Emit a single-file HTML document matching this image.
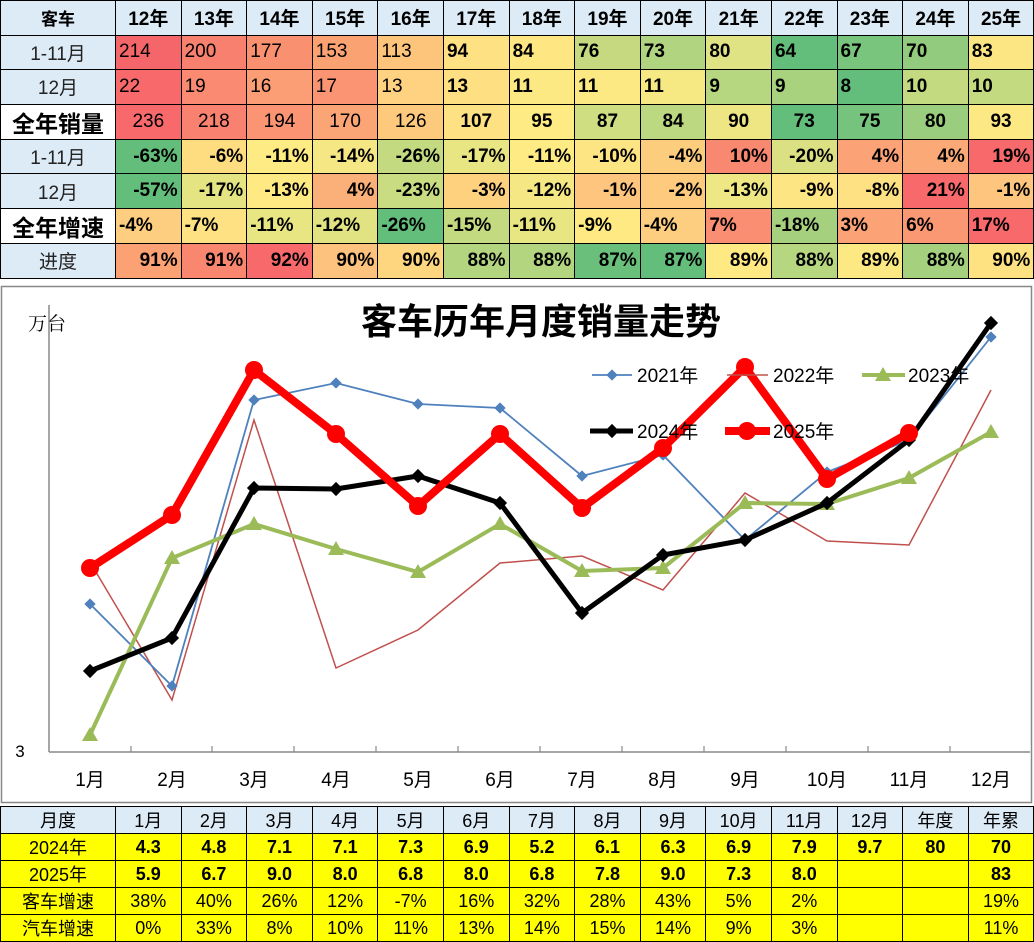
<!DOCTYPE html>
<html><head><meta charset="utf-8">
<style>
body{margin:0;width:1034px;height:941px;background:#fff;overflow:hidden;font-family:"Liberation Sans","Noto Sans CJK SC",sans-serif;position:relative}
table{border-collapse:collapse;table-layout:fixed;position:absolute;left:0}
td{border:1.5px solid #000;padding:0 3px;white-space:nowrap;overflow:hidden;color:#000}
#t1{top:0;width:1034px}
#t1 td{height:33.6px;font-size:19px}
#t1 tr.h td{background:#ddebf7;font-weight:bold;text-align:center;font-size:19px}
#t1 td.f{background:#ddebf7;text-align:center;font-weight:normal;font-size:19px;color:#222}
#t1 td.w{background:#fff;text-align:center;font-weight:bold;font-size:23px}
.l td{text-align:left}
.c td{text-align:center}
.r td{text-align:right;font-weight:bold}
.b td{font-weight:bold}
#t2{top:806px;width:1034px}
#t2 td{height:24px;font-size:18px;text-align:center;background:#ffff00;padding:0}
#t2 tr.h td{background:#ddebf7}
#t2 .n td{font-weight:bold}
#t2 td.f{font-weight:normal}
</style></head><body>
<table id="t1">
<colgroup><col style="width:115px"><col span="14" style="width:65.6px"></colgroup>
<tr class="h"><td style="font-size:17px">客车</td><td>12年</td><td>13年</td><td>14年</td><td>15年</td><td>16年</td><td>17年</td><td>18年</td><td>19年</td><td>20年</td><td>21年</td><td>22年</td><td>23年</td><td>24年</td><td>25年</td></tr>
<tr class="l"><td class="f">1-11月</td><td style="background:#f5666a">214</td><td style="background:#f7806e">200</td><td style="background:#f99170">177</td><td style="background:#fba273">153</td><td style="background:#fdc47c">113</td><td style="background:#fee182;font-weight:bold">94</td><td style="background:#fee782;font-weight:bold">84</td><td style="background:#c6d980;font-weight:bold">76</td><td style="background:#b0d47f;font-weight:bold">73</td><td style="background:#e0e383;font-weight:bold">80</td><td style="background:#63be7b;font-weight:bold">64</td><td style="background:#7ac57d;font-weight:bold">67</td><td style="background:#93cb7e;font-weight:bold">70</td><td style="background:#fbe683;font-weight:bold">83</td></tr>
<tr class="l"><td class="f">12月</td><td style="background:#f8696b">22</td><td style="background:#fa8b72">19</td><td style="background:#fb9d75">16</td><td style="background:#fa9473">17</td><td style="background:#fed280">13</td><td style="background:#fee082;font-weight:bold">13</td><td style="background:#fde983;font-weight:bold">11</td><td style="background:#fde983;font-weight:bold">11</td><td style="background:#f6e883;font-weight:bold">11</td><td style="background:#b7d680;font-weight:bold">9</td><td style="background:#a9d27f;font-weight:bold">9</td><td style="background:#63be7b;font-weight:bold">8</td><td style="background:#c3da80;font-weight:bold">10</td><td style="background:#c3da80;font-weight:bold">10</td></tr>
<tr class="c"><td class="w">全年销量</td><td style="background:#f8696b">236</td><td style="background:#f8816f">218</td><td style="background:#fa9473">194</td><td style="background:#fba576">170</td><td style="background:#fdc97d">126</td><td style="background:#fee182;font-weight:bold">107</td><td style="background:#ffeb84;font-weight:bold">95</td><td style="background:#d0de82;font-weight:bold">87</td><td style="background:#bcd881;font-weight:bold">84</td><td style="background:#eee683;font-weight:bold">90</td><td style="background:#63be7b;font-weight:bold">73</td><td style="background:#75c37c;font-weight:bold">75</td><td style="background:#9acd7e;font-weight:bold">80</td><td style="background:#fde983;font-weight:bold">93</td></tr>
<tr class="r"><td class="f">1-11月</td><td style="background:#63be7b">-63%</td><td style="background:#fedd81">-6%</td><td style="background:#ffeb84">-11%</td><td style="background:#f5e884">-14%</td><td style="background:#c4da80">-26%</td><td style="background:#e8e583">-17%</td><td style="background:#ffeb84">-11%</td><td style="background:#fee583">-10%</td><td style="background:#fdcd7e">-4%</td><td style="background:#f98870">10%</td><td style="background:#dbe182">-20%</td><td style="background:#fba276">4%</td><td style="background:#fbaa77">4%</td><td style="background:#f8696b">19%</td></tr>
<tr class="r"><td class="f">12月</td><td style="background:#63be7b">-57%</td><td style="background:#e5e483">-17%</td><td style="background:#fee983">-13%</td><td style="background:#fbb079">4%</td><td style="background:#c9dc81">-23%</td><td style="background:#fed17f">-3%</td><td style="background:#f5e884">-12%</td><td style="background:#fdc57d">-1%</td><td style="background:#fdca7e">-2%</td><td style="background:#efe784">-13%</td><td style="background:#fee583">-9%</td><td style="background:#fee182">-8%</td><td style="background:#f8696b">21%</td><td style="background:#fdc57d">-1%</td></tr>
<tr class="l b"><td class="w">全年增速</td><td style="background:#fdce7f">-4%</td><td style="background:#fee182">-7%</td><td style="background:#e8e583">-11%</td><td style="background:#e1e383">-12%</td><td style="background:#63be7b">-26%</td><td style="background:#c4da80">-15%</td><td style="background:#e8e583">-11%</td><td style="background:#fee983">-9%</td><td style="background:#fdce7f">-4%</td><td style="background:#f98e72">7%</td><td style="background:#a5d17f">-18%</td><td style="background:#fba276">3%</td><td style="background:#fa9874">6%</td><td style="background:#f8696b">17%</td></tr>
<tr class="r"><td class="f">进度</td><td style="background:#fba174">91%</td><td style="background:#f98770">91%</td><td style="background:#f8696b">92%</td><td style="background:#fdc27d">90%</td><td style="background:#fed680">90%</td><td style="background:#b4d57f">88%</td><td style="background:#b4d57f">88%</td><td style="background:#6ac07b">87%</td><td style="background:#63be7b">87%</td><td style="background:#fee983">89%</td><td style="background:#b7d680">88%</td><td style="background:#fde983">89%</td><td style="background:#a5d17f">88%</td><td style="background:#fee282">90%</td></tr>
</table>

<svg style="position:absolute;left:0;top:0" width="1034" height="941">
<rect x="1.5" y="286.5" width="1030" height="516" fill="none" stroke="#888" stroke-width="1.5"/>
<text x="28" y="330" font-size="19" font-family="Liberation Serif,Noto Serif CJK SC,serif">万台</text>
<text x="541" y="334" font-size="36" font-weight="bold" text-anchor="middle" font-family="Liberation Sans,Noto Sans CJK SC,sans-serif">客车历年月度销量走势</text>
<line x1="49" y1="305" x2="49" y2="752" stroke="#888" stroke-width="1.5"/>
<line x1="49" y1="752" x2="1030" y2="752" stroke="#888" stroke-width="1.5"/>
<g stroke="#888" stroke-width="1.2">
<line x1="131" y1="746" x2="131" y2="752"/><line x1="212" y1="746" x2="212" y2="752"/><line x1="294" y1="746" x2="294" y2="752"/><line x1="376" y1="746" x2="376" y2="752"/><line x1="458" y1="746" x2="458" y2="752"/><line x1="540" y1="746" x2="540" y2="752"/><line x1="622" y1="746" x2="622" y2="752"/><line x1="704" y1="746" x2="704" y2="752"/><line x1="786" y1="746" x2="786" y2="752"/><line x1="868" y1="746" x2="868" y2="752"/><line x1="950" y1="746" x2="950" y2="752"/>
</g>
<text x="20" y="757" font-size="17" text-anchor="middle">3</text>
<g font-size="19" text-anchor="middle">
<text x="90" y="786">1月</text><text x="172" y="786">2月</text><text x="254" y="786">3月</text><text x="336" y="786">4月</text><text x="418" y="786">5月</text><text x="500" y="786">6月</text><text x="582" y="786">7月</text><text x="663" y="786">8月</text><text x="745" y="786">9月</text><text x="827" y="786">10月</text><text x="909" y="786">11月</text><text x="991" y="786">12月</text>
</g>
<polyline fill="none" stroke="#c0504d" stroke-width="1.5" points="90,562 172,700 254,420 336,668 418,630 500,563 582,556 663,590 745,493 827,541 909,545 991,390"/>
<polyline fill="none" stroke="#4f81bd" stroke-width="1.8" points="90,604 172,686 254,400 336,383 418,404 500,408 582,476 663,455 745,540 827,472 909,440 991,337"/>
<g fill="#4f81bd">
<rect x="86" y="600" width="8" height="8" transform="rotate(45 90 604)"/><rect x="168" y="682" width="8" height="8" transform="rotate(45 172 686)"/><rect x="250" y="396" width="8" height="8" transform="rotate(45 254 400)"/><rect x="332" y="379" width="8" height="8" transform="rotate(45 336 383)"/><rect x="414" y="400" width="8" height="8" transform="rotate(45 418 404)"/><rect x="496" y="404" width="8" height="8" transform="rotate(45 500 408)"/><rect x="578" y="472" width="8" height="8" transform="rotate(45 582 476)"/><rect x="659" y="451" width="8" height="8" transform="rotate(45 663 455)"/><rect x="741" y="536" width="8" height="8" transform="rotate(45 745 540)"/><rect x="823" y="468" width="8" height="8" transform="rotate(45 827 472)"/><rect x="905" y="436" width="8" height="8" transform="rotate(45 909 440)"/><rect x="987" y="333" width="8" height="8" transform="rotate(45 991 337)"/>
</g>
<polyline fill="none" stroke="#9bbb59" stroke-width="4" points="90,735 172,558 254,524 336,549 418,572 500,524 582,571 663,568 745,503 827,504 909,478 991,432"/>
<g fill="#9bbb59">
<polygon points="90,727 82,741 98,741"/><polygon points="172,550 164,564 180,564"/><polygon points="254,516 246,530 262,530"/><polygon points="336,541 328,555 344,555"/><polygon points="418,564 410,578 426,578"/><polygon points="500,516 492,530 508,530"/><polygon points="582,563 574,577 590,577"/><polygon points="663,560 655,574 671,574"/><polygon points="745,495 737,509 753,509"/><polygon points="827,496 819,510 835,510"/><polygon points="909,470 901,484 917,484"/><polygon points="991,424 983,438 999,438"/>
</g>
<polyline fill="none" stroke="#000" stroke-width="5" points="90,671 172,638 254,488 336,489 418,476 500,503 582,613 663,555 745,540 827,503 909,440 991,323"/>
<g fill="#000">
<rect x="85" y="666" width="10" height="10" transform="rotate(45 90 671)"/><rect x="167" y="633" width="10" height="10" transform="rotate(45 172 638)"/><rect x="249" y="483" width="10" height="10" transform="rotate(45 254 488)"/><rect x="331" y="484" width="10" height="10" transform="rotate(45 336 489)"/><rect x="413" y="471" width="10" height="10" transform="rotate(45 418 476)"/><rect x="495" y="498" width="10" height="10" transform="rotate(45 500 503)"/><rect x="577" y="608" width="10" height="10" transform="rotate(45 582 613)"/><rect x="658" y="550" width="10" height="10" transform="rotate(45 663 555)"/><rect x="740" y="535" width="10" height="10" transform="rotate(45 745 540)"/><rect x="822" y="498" width="10" height="10" transform="rotate(45 827 503)"/><rect x="904" y="435" width="10" height="10" transform="rotate(45 909 440)"/><rect x="986" y="318" width="10" height="10" transform="rotate(45 991 323)"/>
</g>
<polyline fill="none" stroke="#ff0000" stroke-width="8" stroke-linejoin="round" points="90,568 172,515 254,370 336,434 418,506 500,434 582,508 663,448 745,367 827,479 909,433"/>
<g fill="#ff0000">
<circle cx="90" cy="568" r="9"/><circle cx="172" cy="515" r="9"/><circle cx="254" cy="370" r="9"/><circle cx="336" cy="434" r="9"/><circle cx="418" cy="506" r="9"/><circle cx="500" cy="434" r="9"/><circle cx="582" cy="508" r="9"/><circle cx="663" cy="448" r="9"/><circle cx="745" cy="367" r="9"/><circle cx="827" cy="479" r="9"/><circle cx="909" cy="433" r="9"/>
</g>
<g font-size="19" fill="#000">
<line x1="592" y1="375" x2="632" y2="375" stroke="#4f81bd" stroke-width="1.8"/><rect x="608" y="371" width="8" height="8" fill="#4f81bd" transform="rotate(45 612 375)"/><text x="637" y="382">2021年</text>
<line x1="727" y1="375" x2="768" y2="375" stroke="#c0504d" stroke-width="1.5"/><text x="773" y="382">2022年</text>
<line x1="862" y1="375" x2="905" y2="375" stroke="#9bbb59" stroke-width="4"/><polygon points="883,367 875,381 891,381" fill="#9bbb59"/><text x="908" y="382">2023年</text>
<line x1="590" y1="431" x2="633" y2="431" stroke="#000" stroke-width="5"/><rect x="607" y="426" width="10" height="10" transform="rotate(45 612 431)"/><text x="637" y="438">2024年</text>
<line x1="725" y1="431" x2="770" y2="431" stroke="#ff0000" stroke-width="8"/><circle cx="747" cy="431" r="9" fill="#ff0000"/><text x="773" y="438">2025年</text>
</g>
</svg>

<table id="t2">
<colgroup><col style="width:115px"><col span="14" style="width:65.6px"></colgroup>
<tr class="h"><td>月度</td><td>1月</td><td>2月</td><td>3月</td><td>4月</td><td>5月</td><td>6月</td><td>7月</td><td>8月</td><td>9月</td><td>10月</td><td>11月</td><td>12月</td><td>年度</td><td>年累</td></tr>
<tr class="n"><td class="f">2024年</td><td>4.3</td><td>4.8</td><td>7.1</td><td>7.1</td><td>7.3</td><td>6.9</td><td>5.2</td><td>6.1</td><td>6.3</td><td>6.9</td><td>7.9</td><td>9.7</td><td>80</td><td>70</td></tr>
<tr class="n"><td class="f">2025年</td><td>5.9</td><td>6.7</td><td>9.0</td><td>8.0</td><td>6.8</td><td>8.0</td><td>6.8</td><td>7.8</td><td>9.0</td><td>7.3</td><td>8.0</td><td></td><td></td><td>83</td></tr>
<tr><td>客车增速</td><td>38%</td><td>40%</td><td>26%</td><td>12%</td><td>-7%</td><td>16%</td><td>32%</td><td>28%</td><td>43%</td><td>5%</td><td>2%</td><td></td><td></td><td>19%</td></tr>
<tr><td>汽车增速</td><td>0%</td><td>33%</td><td>8%</td><td>10%</td><td>11%</td><td>13%</td><td>14%</td><td>15%</td><td>14%</td><td>9%</td><td>3%</td><td></td><td></td><td>11%</td></tr>
</table>
</body></html>
